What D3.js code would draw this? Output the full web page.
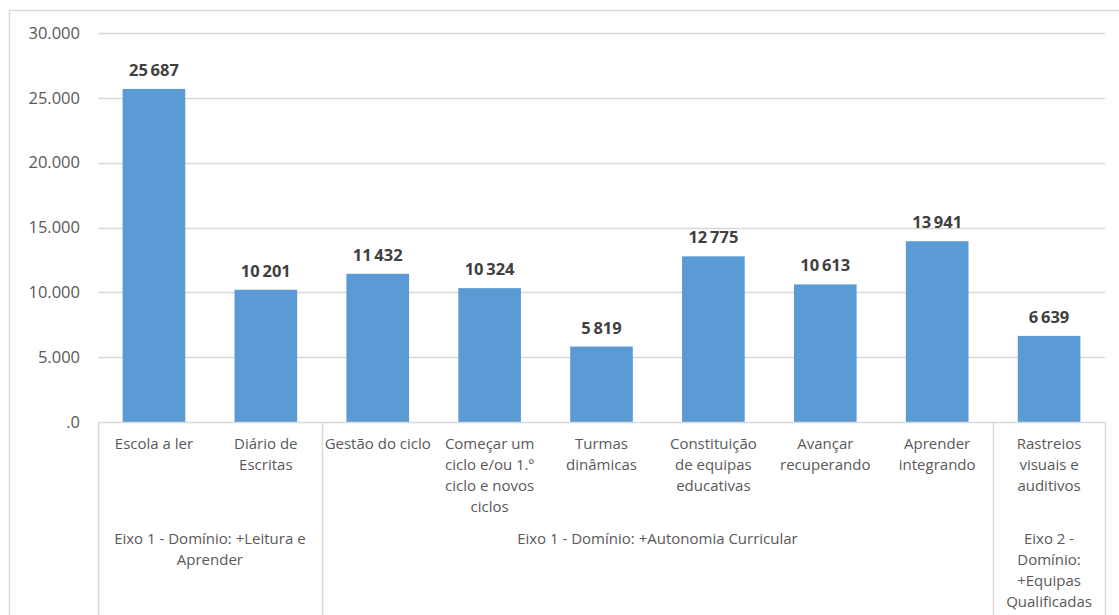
<!DOCTYPE html>
<html>
<head>
<meta charset="utf-8">
<script src="https://cdn.jsdelivr.net/npm/d3@7"></script>
<style>
  body { margin: 0; background: #fff; }
  text { font-family: "Open Sans", "Noto Sans", sans-serif; }
</style>
</head>
<body>
<svg id="chart" width="1119" height="615"></svg>
<script>
// categories (line breaks as in the original)
var categories = [
  "Escola a ler",
  "Diário de\nEscritas",
  "Gestão do ciclo",
  "Começar um\nciclo e/ou 1.º\nciclo e novos\nciclos",
  "Turmas\ndinâmicas",
  "Constituição\nde equipas\neducativas",
  "Avançar\nrecuperando",
  "Aprender\nintegrando",
  "Rastreios\nvisuais e\nauditivos"
];
var values = [25687, 10201, 11432, 10324, 5819, 12775, 10613, 13941, 6639];

var groupNames = [
  "Eixo 1 - Domínio: +Leitura e\nAprender",
  "Eixo 1 - Domínio: +Autonomia Curricular",
  "Eixo 2 -\nDomínio:\n+Equipas\nQualificadas"
];
var groupSizes = [2, 6, 1];

var yTicks = [0, 5000, 10000, 15000, 20000, 25000, 30000];

var svg = d3.select("#chart");

// outer chart border
svg.append("rect")
  .attr("x", 9.5).attr("y", 10.5)
  .attr("width", 1200).attr("height", 700)
  .attr("fill", "none")
  .attr("stroke", "#d9d9d9")
  .attr("stroke-width", 1.5);

var pLeft = 98, pRight = 1105, pTop = 33, pBottom = 422;

var x = d3.scaleBand()
  .domain(d3.range(categories.length))
  .range([pLeft, pRight])
  .paddingInner(0.44)
  .paddingOuter(0.22);

var y = d3.scaleLinear().domain([0, 30000]).range([pBottom, pTop]);

var tickLocale = d3.formatLocale({ decimal: ",", thousands: ".", grouping: [3], currency: ["", ""] });
var valLocale = d3.formatLocale({ decimal: ",", thousands: "\u2009", grouping: [3], currency: ["", ""] });
var tickFmt = tickLocale.format(",d");
var valFmt = valLocale.format(",d");

// gridlines
svg.append("g")
  .selectAll("line")
  .data(yTicks.filter(function(d) { return d > 0; }))
  .enter().append("line")
  .attr("x1", pLeft).attr("x2", pRight)
  .attr("y1", function(d) { return Math.round(y(d)) + 0.5; })
  .attr("y2", function(d) { return Math.round(y(d)) + 0.5; })
  .attr("stroke", "#d9d9d9")
  .attr("stroke-width", 1.3);

// y axis labels
var yAxis = d3.axisLeft(y)
  .tickValues(yTicks)
  .tickSize(0)
  .tickPadding(18)
  .tickFormat(function(d) { return d === 0 ? ".0" : tickFmt(d); });

var yg = svg.append("g")
  .attr("transform", "translate(" + pLeft + ",0)")
  .call(yAxis);
yg.select(".domain").remove();
yg.selectAll("text")
  .attr("fill", "#595959")
  .style("font-size", "16.5px")
  .style("font-family", "\"Open Sans\", sans-serif");

// bars
svg.append("g")
  .selectAll("rect")
  .data(values)
  .enter().append("rect")
  .attr("x", function(d, i) { return x(i); })
  .attr("y", function(d) { return y(d); })
  .attr("width", x.bandwidth())
  .attr("height", function(d) { return y(0) - y(d); })
  .attr("fill", "#5b9bd5");

// value labels
svg.append("g")
  .selectAll("text")
  .data(values)
  .enter().append("text")
  .attr("x", function(d, i) { return x(i) + x.bandwidth() / 2; })
  .attr("y", function(d) { return y(d) - 13; })
  .attr("text-anchor", "middle")
  .attr("fill", "#404040")
  .style("font-size", "16.5px")
  .style("font-weight", "bold")
  .text(function(d) { return valFmt(d); });

// category axis line
svg.append("line")
  .attr("x1", pLeft).attr("x2", pRight)
  .attr("y1", pBottom + 0.5).attr("y2", pBottom + 0.5)
  .attr("stroke", "#d9d9d9")
  .attr("stroke-width", 1.5);

// group separators
var step = x.step();
var bounds = [0];
groupSizes.forEach(function(s) { bounds.push(bounds[bounds.length - 1] + s); });
svg.append("g")
  .selectAll("line")
  .data(bounds)
  .enter().append("line")
  .attr("x1", function(d) { return Math.round(pLeft + d * step) + 0.5; })
  .attr("x2", function(d) { return Math.round(pLeft + d * step) + 0.5; })
  .attr("y1", pBottom).attr("y2", 640)
  .attr("stroke", "#d9d9d9")
  .attr("stroke-width", 1.5);

// multi-line text helper
function multiline(sel, lineH) {
  sel.each(function(d) {
    var t = d3.select(this);
    d.split("\n").forEach(function(line, k) {
      t.append("tspan")
        .attr("x", t.attr("x"))
        .attr("dy", k === 0 ? 0 : lineH)
        .text(line);
    });
  });
}

// category labels
svg.append("g")
  .selectAll("text")
  .data(categories)
  .enter().append("text")
  .attr("x", function(d, i) { return x(i) + x.bandwidth() / 2; })
  .attr("y", 449)
  .attr("text-anchor", "middle")
  .attr("fill", "#595959")
  .style("font-size", "15px")
  .call(multiline, 21);

// group labels
svg.append("g")
  .selectAll("text")
  .data(groupNames)
  .enter().append("text")
  .attr("x", function(d, i) { return pLeft + (bounds[i] + bounds[i + 1]) / 2 * step; })
  .attr("y", 544)
  .attr("text-anchor", "middle")
  .attr("fill", "#595959")
  .style("font-size", "15px")
  .call(multiline, 21);
</script>
</body>
</html>
